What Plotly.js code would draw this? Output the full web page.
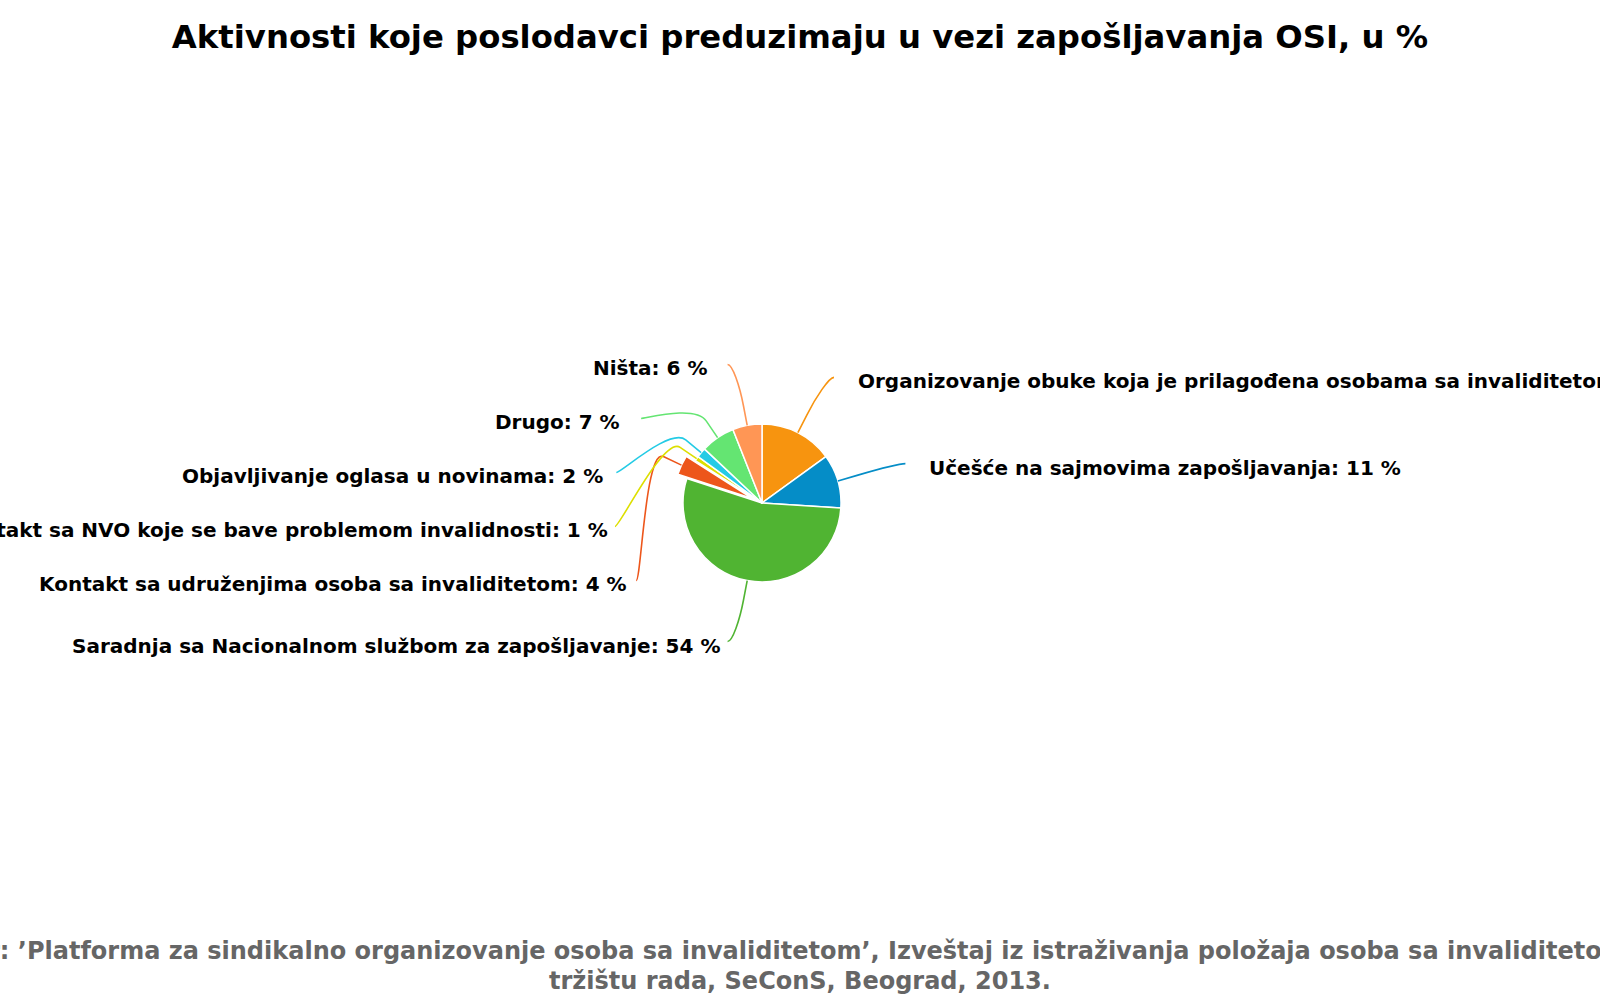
<!DOCTYPE html>
<html>
<head>
<meta charset="utf-8">
<script src="https://cdn.plot.ly/plotly-3.0.1.min.js"></script>
<style>
html, body { margin: 0; padding: 0; background: #fff; }
#chart { width: 1600px; height: 1000px; }
</style>
</head>
<body>
<div id="chart"></div>
<script>
// data (clockwise from 12 o'clock)
const labels = [
    'Organizovanje obuke koja je prilagođena osobama sa invaliditetom',
    'Učešće na sajmovima zapošljavanja',
    'Saradnja sa Nacionalnom službom za zapošljavanje',
    'Kontakt sa udruženjima osoba sa invaliditetom',
    'Kontakt sa NVO koje se bave problemom invalidnosti',
    'Objavljivanje oglasa u novinama',
    'Drugo',
    'Ništa'
];
const values = [15, 11, 54, 4, 1, 2, 7, 6];
const colors = ['#F7940F', '#058DC7', '#50B432', '#ED561B', '#DDDF00', '#24CBE5', '#64E572', '#FF9655'];
const sliced = [0, 0, 0, 1, 0, 0, 0, 0];

const titleText = 'Aktivnosti koje poslodavci preduzimaju u vezi zapošljavanja OSI, u %';
const sourceLines = [
    'Izvor: ’Platforma za sindikalno organizovanje osoba sa invaliditetom’, Izveštaj iz istraživanja položaja osoba sa invaliditetom na',
    'tržištu rada, SeConS, Beograd, 2013.'
];

// layout in pixels
const W = 1600, H = 1000;
const cx = 762, cy = 503, r = 79;
const sliceOffset = 10;
const labelRadius = 141;
const labelPadding = 8;
const breakRadius = r + 20;
const rowGap = 54;
const labelFont = { family: 'DejaVu Sans', size: 20, color: '#000' };

const pull = sliced.map(s => s ? sliceOffset / r : 0);
const maxPull = Math.max(...pull);
const half = r * (1 + maxPull);

const px = x => x / W;
const py = y => 1 - y / H;

// text widths, the gap to the connector shrinks a bit for long left labels
const ctx = document.createElement('canvas').getContext('2d');
ctx.font = 'bold 20px "DejaVu Sans"';
const textGap = (txt, left) => left ? Math.max(5, 22 - 0.026 * ctx.measureText(txt).width) : 22;

// label placement
const total = values.reduce((a, b) => a + b, 0);
let cum = 0;
const pts = values.map((v, i) => {
    const mid = (cum + v / 2) / total * 2 * Math.PI;
    cum += v;
    const sx = Math.sin(mid), sy = -Math.cos(mid);
    return { i, sx, sy, off: sliced[i] ? sliceOffset : 0, left: sx < 0, y: cy + labelRadius * sy };
});

[true, false].forEach(side => {
    const grp = pts.filter(p => p.left === side).sort((a, b) => a.y - b.y);
    for (let j = 1; j < grp.length; j++) {
        grp[j].y = Math.max(grp[j].y, grp[j - 1].y + rowGap);
    }
});

const shapes = [];
const annotations = [];
pts.forEach(p => {
    const dy = Math.max(-labelRadius, Math.min(labelRadius, p.y - cy));
    const dx = Math.sqrt(labelRadius * labelRadius - dy * dy) + labelPadding;
    const lx = cx + (p.left ? -dx : dx);
    const tx = cx + (r + p.off) * p.sx, ty = cy + (r + p.off) * p.sy;
    const bx = cx + (breakRadius + p.off) * p.sx, by = cy + (breakRadius + p.off) * p.sy;
    const c1x = lx + (p.left ? 5 : -5);
    const path = `M${px(lx)},${py(p.y)} C${px(c1x)},${py(p.y)} ${px(2 * bx - tx)},${py(2 * by - ty)} ${px(bx)},${py(by)} L${px(tx)},${py(ty)}`;
    shapes.push({
        type: 'path', xref: 'paper', yref: 'paper', path: path,
        line: { color: colors[p.i], width: 1.6 }
    });
    const txt = labels[p.i] + ': ' + values[p.i] + ' %';
    const gap = textGap(txt, p.left);
    annotations.push({
        xref: 'paper', yref: 'paper',
        x: px(lx + (p.left ? -gap : gap)), y: py(p.y + 4),
        xanchor: p.left ? 'right' : 'left', yanchor: 'middle',
        text: '<b>' + txt + '</b>',
        showarrow: false, font: labelFont
    });
});

const sourceY = [951, 981];
sourceLines.forEach((line, k) => {
    annotations.push({
        xref: 'paper', yref: 'paper', x: 0.5, y: py(sourceY[k]),
        xanchor: 'center', yanchor: 'middle', align: 'center',
        text: '<b>' + line + '</b>', showarrow: false,
        font: { family: 'DejaVu Sans', size: 24, color: '#666666' }
    });
});

const trace = {
    type: 'pie',
    labels: labels,
    values: values,
    sort: false,
    direction: 'clockwise',
    rotation: 0,
    pull: pull,
    textinfo: 'none',
    hoverinfo: 'skip',
    marker: { colors: colors, line: { color: '#fff', width: 1.5 } },
    domain: { x: [px(cx - half), px(cx + half)], y: [py(cy + half), py(cy - half)] },
    showlegend: false
};

Plotly.newPlot('chart', [trace], {
    width: W, height: H,
    margin: { l: 0, r: 0, t: 0, b: 0 },
    paper_bgcolor: '#fff',
    title: {
        text: '<b>' + titleText + '</b>',
        x: 0.5, xanchor: 'center', y: py(37), yanchor: 'middle',
        font: { family: 'DejaVu Sans', size: 32.3, color: '#000' }
    },
    shapes: shapes,
    annotations: annotations,
    showlegend: false
}, { displayModeBar: false, staticPlot: true });
</script>
</body>
</html>
